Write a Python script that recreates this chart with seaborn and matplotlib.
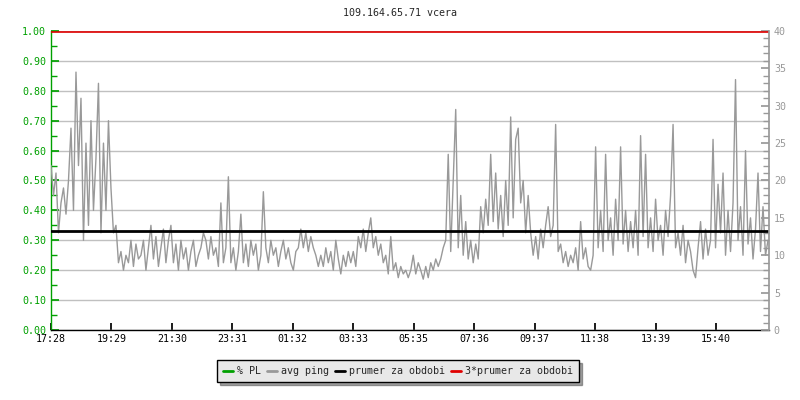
import numpy as np
import pandas as pd
import matplotlib
matplotlib.use("Agg")
import matplotlib.pyplot as plt
import seaborn as sns
from matplotlib.lines import Line2D
from matplotlib.ticker import MultipleLocator

# avg ping [ms], one value every 5 minutes from 17:28 (one row = one hour)
ping_ms = [
    22, 18, 21, 13, 17, 19, 15.5, 20, 27, 16, 34.5, 22,
    31, 12, 25, 14, 28, 16, 23, 33, 13, 25, 16, 28,
    19, 13, 14, 9, 10.5, 8, 10, 9, 12, 8.5, 11.5, 9.5,
    10, 12, 8, 11, 14, 9.5, 12.5, 8.5, 11, 13.5, 9, 12,
    14, 9, 11.5, 8, 12, 9.5, 11, 8, 10.5, 12, 8.5, 10,
    11, 13, 12, 9.5, 12.5, 10, 11, 8.5, 17, 9, 11, 20.5,
    9, 11, 8, 10.5, 15.5, 9, 11.5, 8.5, 12, 10, 11.5, 8,
    10, 18.5, 11, 9, 12, 10, 11, 8.5, 10.5, 12, 9.5, 11,
    9, 8, 10.5, 11, 13.5, 11, 13, 10.5, 12.5, 11, 10, 8.5,
    10, 8.5, 11, 9, 10.5, 8, 12, 9.5, 7.5, 10, 8.5, 10.5,
    9, 10.5, 8.5, 12.5, 11, 13.5, 10.5, 13, 15, 11, 12.5, 10,
    11.5, 9, 10, 7.5, 12.5, 8, 9, 7, 8.5, 7.5, 8, 7,
    8, 10, 7.5, 9, 8, 6.8, 8.5, 7, 9, 8, 9.5, 8.5,
    9.5, 11, 12, 23.5, 10.5, 20, 29.5, 11, 18, 10, 14.5, 9.5,
    12, 9, 11.5, 9.5, 16.5, 13, 17.5, 14, 23.5, 14.5, 21, 13.5,
    18, 12.5, 20, 14, 28.5, 15, 25.5, 27, 17, 20, 13, 18,
    13, 10, 12.5, 9.5, 13.5, 11, 14, 16.5, 12.5, 14, 27.5, 10.5,
    11.5, 9, 10.5, 8.5, 10, 9, 11, 8, 14.5, 9.5, 11, 8.5,
    8, 10, 24.5, 11, 16, 10.5, 23.5, 12, 15, 10, 17.5, 12,
    24.5, 11.5, 16, 10.5, 14.5, 11, 16, 10, 26, 12.5, 23.5, 11,
    15, 10.5, 17.5, 12, 14, 10, 16, 12.5, 18, 27.5, 11, 13,
    10, 14, 9, 12, 10.5, 8, 7, 11, 14.5, 9.5, 13.5, 10,
    12, 25.5, 11, 19.5, 13, 21, 10, 16, 10.5, 17, 33.5, 12,
    16.5, 10, 24, 11.5, 15, 9.5, 13.5, 21, 10.5, 16.5, 10, 12,
]
mean_ms = 13.3
tick_labels = ["17:28", "19:29", "21:30", "23:31", "01:32", "03:33",
               "05:35", "07:36", "09:37", "11:38", "13:39", "15:40"]
tick_step_min = 121
legend_labels = ["% PL", "avg ping", "prumer za obdobi", "3*prumer za obdobi"]
title = "109.164.65.71 vcera"

df = pd.DataFrame({"minute": np.arange(len(ping_ms)) * 5, "ping": ping_ms})

sns.set_theme(style="white")
plt.rcParams["font.family"] = ["DejaVu Sans Mono", "DejaVu Sans"]
fs = 7.2

fig = plt.figure(figsize=(8, 4), dpi=100)
ax = fig.add_axes([51 / 800, 70 / 400, 718 / 800, 299 / 400])
ax2 = ax.twinx()

green = "#00a000"
grey = "#999999"

# left axis: packet loss fraction
ax.set_ylim(0, 1)
ax.set_xlim(0, 1437)
ax.yaxis.set_major_locator(MultipleLocator(0.1))
ax.yaxis.set_minor_locator(MultipleLocator(0.05))
ax.yaxis.set_major_formatter(matplotlib.ticker.FormatStrFormatter("%.2f"))
ax.grid(axis="y", color="#c0c0c0", linewidth=1)
ax.set_axisbelow(True)
ax.tick_params(axis="y", which="both", direction="in", colors=green,
               labelcolor=green, left=True, labelsize=fs)
ax.tick_params(axis="y", which="major", length=6)
ax.tick_params(axis="y", which="minor", length=4)
ax.set_xticks(np.arange(len(tick_labels)) * tick_step_min)
ax.set_xticklabels(tick_labels)
ax.tick_params(axis="x", direction="in", length=5, colors="black",
               bottom=True, labelsize=fs, pad=3)
ax.spines["left"].set_color(green)
ax.spines["bottom"].set_color("black")
ax.spines["top"].set_visible(False)
ax.spines["right"].set_visible(False)
for s in ax.spines.values():
    s.set_linewidth(1)

# right axis: ping in ms
sns.lineplot(data=df, x="minute", y="ping", ax=ax2, color=grey,
             linewidth=1, estimator=None)
ax2.axhline(mean_ms, color="black", linewidth=2)
ax2.axhline(3 * mean_ms, color="#e00000", linewidth=1.2)
ax2.set_ylim(0, 40)
ax2.set_xlim(0, 1437)
ax2.set_xlabel("")
ax2.set_ylabel("")
ax2.yaxis.set_major_locator(MultipleLocator(5))
ax2.yaxis.set_minor_locator(MultipleLocator(1))
ax2.tick_params(axis="y", which="both", direction="in", colors=grey,
                labelcolor=grey, right=True, labelsize=fs)
ax2.tick_params(axis="y", which="major", length=6)
ax2.tick_params(axis="y", which="minor", length=4)
ax2.spines["right"].set_color(grey)
ax2.spines["left"].set_visible(False)
ax2.spines["top"].set_visible(False)
ax2.spines["bottom"].set_visible(False)

fig.text(0.5, 1 - 13 / 400, title, ha="center", va="center", fontsize=fs)

handles = [Line2D([], [], color=c, linewidth=2)
           for c in [green, grey, "black", "#e00000"]]
leg = fig.legend(handles, legend_labels, loc="center", ncol=4,
                 bbox_to_anchor=(398 / 800, 1 - 371 / 400),
                 frameon=True, fancybox=False, shadow=True,
                 handlelength=1.0, handletextpad=0.4, columnspacing=0.6,
                 borderpad=0.6, fontsize=fs)
leg.get_frame().set_facecolor("#e8e8e8")
leg.get_frame().set_edgecolor("black")
leg.get_frame().set_alpha(1)

fig.savefig("out.png", dpi=100)
